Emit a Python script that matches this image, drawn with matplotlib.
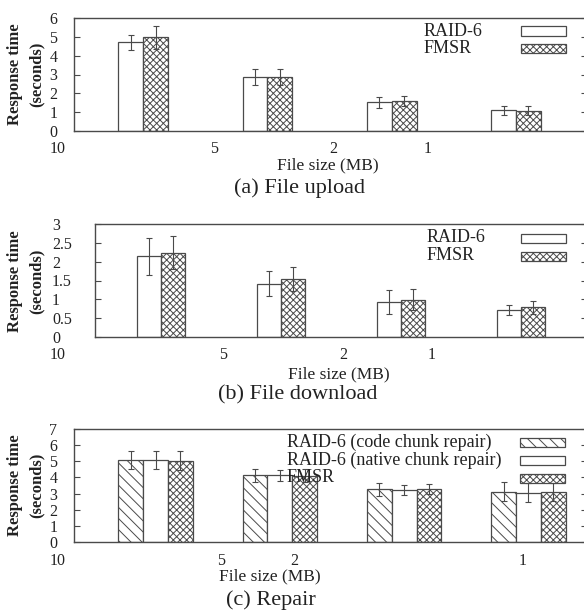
import numpy as np
import matplotlib
matplotlib.use("Agg")
import matplotlib.pyplot as plt
from matplotlib.patches import Rectangle

plt.rcParams['font.family'] = ['Liberation Serif', 'DejaVu Serif']
plt.rcParams['hatch.linewidth'] = 0.7
plt.rcParams['hatch.color'] = '#4d4d4d'

# data
size_labels = ["10", "5", "2", "1"]
groups = np.arange(4)

upload_raid6 = [4.70, 2.88, 1.52, 1.10]
upload_raid6_err = [0.40, 0.43, 0.30, 0.25]
upload_fmsr = [4.97, 2.85, 1.60, 1.08]
upload_fmsr_err = [0.60, 0.42, 0.28, 0.25]

download_raid6 = [2.14, 1.41, 0.93, 0.72]
download_raid6_err = [0.50, 0.33, 0.32, 0.14]
download_fmsr = [2.24, 1.54, 0.99, 0.79]
download_fmsr_err = [0.43, 0.33, 0.28, 0.17]

repair_code = [5.08, 4.14, 3.27, 3.12]
repair_code_err = [0.57, 0.40, 0.40, 0.60]
repair_native = [5.08, 4.14, 3.22, 3.06]
repair_native_err = [0.55, 0.35, 0.30, 0.60]
repair_fmsr = [5.04, 4.10, 3.27, 3.12]
repair_fmsr_err = [0.60, 0.40, 0.30, 0.55]

W, H = 584, 615
EDGE = '#4a4a4a'
TXT = '#222222'
CROSS = 'xxxxx'
DIAG = '\\\\\\'

fig = plt.figure(figsize=(W / 100, H / 100), dpi=100)


def px_axes(left, top, right, bottom):
    return [left / W, 1 - bottom / H, (right - left) / W, (bottom - top) / H]


def ftext(x, y, s, ha='center', **kw):
    fig.text(x / W, 1 - y / H, s, ha=ha, va='center', color=TXT, **kw)


def key(names, hatches, text_x, box_x, rows):
    # gnuplot-style key: text left, sample box on the right
    for name, h, y in zip(names, hatches, rows):
        ftext(text_x, y, name, ha='left', fontsize=13)
        fig.add_artist(Rectangle((box_x / W, 1 - (y + 4.5) / H), 45 / W, 9 / H,
                                 transform=fig.transFigure, facecolor='white',
                                 edgecolor=EDGE, linewidth=0.9, hatch=h))


def panel(ax, series, errs, hatches, xlim, ymax, yticks, ytick_labels,
          tick_pos, tick_y, ylab_center, left_ticks=False):
    w = 0.2
    for j, (vals, err, h) in enumerate(zip(series, errs, hatches)):
        ax.bar(groups + j * w, vals, w, align='edge', color='white',
               edgecolor=EDGE, linewidth=0.9, hatch=h, yerr=err,
               error_kw=dict(ecolor=EDGE, elinewidth=0.8, capsize=2, capthick=0.8))
    ax.set_xlim(*xlim)
    ax.set_ylim(0, ymax)
    ax.set_xticks([])
    if left_ticks:
        ax.set_yticks(yticks, labels=ytick_labels, ha='left')
        pad = 31
    else:
        ax.set_yticks(yticks, labels=ytick_labels)
        pad = 12
    ax.yaxis.set_ticks_position('both')
    ax.tick_params(axis='y', direction='in', length=4, width=0.8, color=EDGE,
                   labelsize=11.5, labelcolor=TXT, pad=pad, labelright=False)
    for s in ax.spines.values():
        s.set_color(EDGE)
        s.set_linewidth(1.0)
    # x tick labels (placed as in the original figure)
    for p, lab in zip(tick_pos, size_labels):
        ax.text(p, tick_y, lab, transform=ax.get_xaxis_transform(), ha='center',
                va='center', fontsize=11.5, color=TXT, clip_on=False)
    ftext(26, ylab_center, "Response time\n(seconds)", rotation=90, fontsize=12,
          fontweight='bold', linespacing=1.45)


ax_a = fig.add_axes(px_axes(74, 18, 587, 131))
panel(ax_a, [upload_raid6, upload_fmsr], [upload_raid6_err, upload_fmsr_err],
      [None, CROSS], (-0.356, 3.771), 6, range(7),
      [str(i) for i in range(7)], [-0.49, 0.77, 1.727, 2.49], -0.16, 74.5)
key(["RAID-6", "FMSR"], [None, CROSS], 424, 521, [31, 48.5])
ftext(328, 165, "File size (MB)", fontsize=12.5)
ftext(299, 188, "(a) File upload", fontsize=16)

ax_b = fig.add_axes(px_axes(95, 224, 587, 337))
panel(ax_b, [download_raid6, download_fmsr], [download_raid6_err, download_fmsr_err],
      [None, CROSS], (-0.3525, 3.7475), 3,
      [0, 0.5, 1, 1.5, 2, 2.5, 3], ["0", "0.5", "1", "1.5", "2", "2.5", "3"],
      [-0.66, 0.714, 1.714, 2.456], -0.157, 281, left_ticks=True)
key(["RAID-6", "FMSR"], [None, CROSS], 427, 521, [238, 256])
ftext(339, 374, "File size (MB)", fontsize=12.5)
ftext(298, 395, "(b) File download", fontsize=16)

ax_c = fig.add_axes(px_axes(74, 429, 587, 542))
panel(ax_c, [repair_code, repair_native, repair_fmsr],
      [repair_code_err, repair_native_err, repair_fmsr_err],
      [DIAG, None, CROSS], (-0.356, 3.771), 7, range(8),
      [str(i) for i in range(8)], [-0.487, 0.83, 1.413, 3.256], -0.165, 485.5)
key(["RAID-6 (code chunk repair)", "RAID-6 (native chunk repair)", "FMSR"],
    [DIAG, None, CROSS], 287, 520, [442, 460, 478])
ftext(270, 576, "File size (MB)", fontsize=12.5)
ftext(271, 600, "(c) Repair", fontsize=16)

fig.savefig("out.png", dpi=100)
